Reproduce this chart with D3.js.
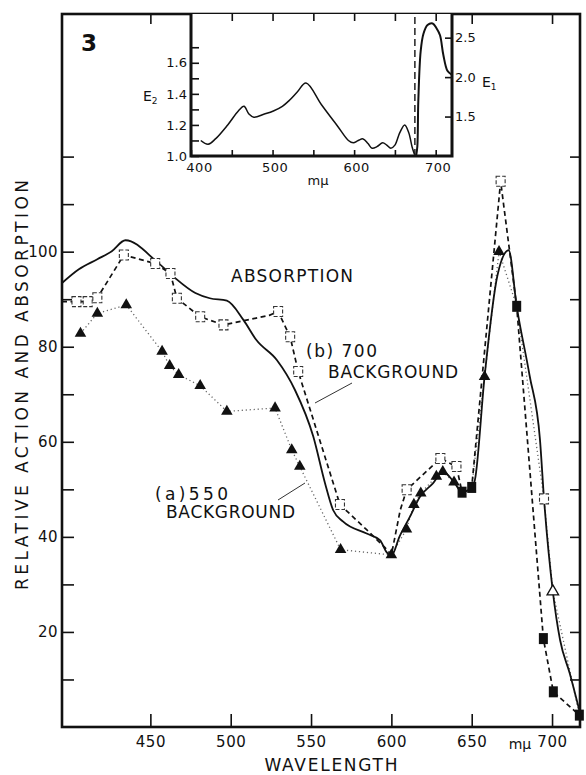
<!DOCTYPE html>
<html>
<head>
<meta charset="utf-8">
<script src="https://cdn.jsdelivr.net/npm/d3@7"></script>
<style>
body { margin: 0; background: #fff; }
svg { display: block; }
text { font-family: "DejaVu Sans", sans-serif; fill: #111; }
</style>
</head>
<body>
<script>
// main chart: relative action / absorption vs wavelength (m\u03bc)
const absorption = [
    [395, 93.4], [405.5, 96.3], [417, 98.4], [426, 100.1], [434.5, 102.4], [454, 97.9],
    [464.5, 94.7], [478, 91.3], [487, 90.2], [497.6, 89.7], [508, 85.6], [516, 81.4],
    [528.7, 77.2], [540, 70.9], [551.4, 61.1], [558.7, 51.3], [563.8, 45.6], [570, 43.2],
    [584.6, 40.7], [592.9, 39.3], [597, 36.8], [600, 36.0], [605, 40.0], [611.5, 44.2],
    [617.7, 48.4], [626, 51.3], [632, 53.7], [639, 51.5], [644, 49.4], [650, 50.4],
    [652, 52], [658, 73.7], [666, 95], [673, 100.3], [678, 88.5], [686, 74], [692.5, 60.4],
    [695, 48], [700.5, 28.5], [705, 18.3], [711, 11.3], [717, 3.5]
]
// (b) 700 background, dashed
const bg700 = [
    [395, 89.5], [404, 89.5], [411, 89.5], [417, 90.3], [433.5, 99.3], [453, 97.5],
    [462.5, 95.4], [466.5, 90.2], [481, 86.3], [495.5, 84.6], [524, 86.6], [529.5, 87.4],
    [537, 82.1], [542, 74.8], [568, 46.8], [584.6, 41.5], [595.6, 37.9], [600, 36.2],
    [605.5, 45.6], [609.5, 49.9], [630.5, 56.5], [640.5, 54.8], [644, 49.4], [650, 50.4],
    [668, 114.8], [678, 88.5], [694.6, 18.6], [700.8, 7.4], [717, 2.5]
]
// (a) 550 background, dotted
const bg550 = [
    [406.5, 82.8], [417, 87], [435, 88.8], [457.3, 79], [462, 76], [467.6, 74.1],
    [481, 71.8], [497.6, 66.4], [527.6, 67.1], [538, 58.3], [543, 54.8], [568.4, 37.3],
    [600, 36.2], [609.4, 41.6], [614, 46.8], [618.3, 49.2], [628, 52.7], [632, 53.7],
    [639, 51.5], [644, 49.4], [650, 50.4], [658, 73.7], [667, 100], [678, 88.5],
    [695, 48], [700.5, 28.5], [717, 2.5]
]
const openSquares = [
    [404, 89.5], [411, 89.5], [417, 90.3], [433.5, 99.3], [453, 97.5], [462.5, 95.4],
    [466.5, 90.2], [481, 86.3], [495.5, 84.6], [529.5, 87.4], [537, 82.1], [542, 74.8],
    [568, 46.8], [609.5, 49.9], [630.5, 56.5], [640.5, 54.8], [668, 114.8], [695, 48]
]
const filledTriangles = [
    [406.5, 82.8], [417, 87], [435, 88.8], [457.3, 79], [462, 76], [467.6, 74.1],
    [481, 71.8], [497.6, 66.4], [527.6, 67.1], [538, 58.3], [543, 54.8], [568.4, 37.3],
    [600, 36.2], [609.4, 41.6], [614, 46.8], [618.3, 49.2], [628, 52.7], [632, 53.7],
    [639, 51.5], [658, 73.7], [667, 100]
]
const filledSquares = [[644, 49.4], [650, 50.4], [678, 88.5], [694.6, 18.6], [700.8, 7.4], [717, 2.5]]
const openTriangles = [[700.5, 28.5]]

const xTicks = [450, 500, 550, 600, 650, 700]
const yTicks = [10, 20, 30, 40, 50, 60, 70, 80, 90, 100, 110, 120]
const yLabels = [20, 40, 60, 80, 100]

// inset: E2 (left scale) and E1 (right scale) vs m\u03bc
const insetE2 = [
    [412, 1.10], [421, 1.076], [430, 1.11], [445, 1.20], [458, 1.29], [465, 1.32],
    [471, 1.27], [477, 1.25], [490, 1.27], [501, 1.29], [512, 1.32], [521, 1.36],
    [530, 1.41], [541, 1.47], [560, 1.33], [580, 1.19], [593, 1.10], [599, 1.085],
    [605, 1.10], [611, 1.11], [617, 1.08], [622, 1.05], [628, 1.06], [635, 1.085],
    [640, 1.07], [645, 1.05], [650, 1.07], [656, 1.15], [662, 1.20], [667, 1.15],
    [671, 1.06], [674, 1.01]
]
const insetE1 = [
    [676, 1.0], [677.5, 1.12], [678.7, 1.70], [681.6, 2.33], [685, 2.55], [690, 2.66],
    [696.3, 2.68], [701, 2.62], [705.3, 2.53], [709.4, 2.28], [714.4, 2.08], [719.6, 2.03]
]
const insetCut = 674.5
const insetXTicks = [400, 450, 500, 550, 600, 650, 700]
const insetXLabels = [400, 500, 600, 700]
const insetE2Ticks = [1.0, 1.1, 1.2, 1.3, 1.4, 1.5, 1.6, 1.7]
const insetE2Labels = [1.0, 1.2, 1.4, 1.6]
const insetE1Ticks = [1.5, 2.0, 2.5]

var width = 586,
    height = 775
var svg = d3.select('body').append('svg')
    .attr('width', width)
    .attr('height', height)

var x = d3.scaleLinear().domain([395, 717.4]).range([62, 580])
var y = d3.scaleLinear().domain([0, 150]).range([727, 14])

function plain(g) {
    g.select('.domain').remove()
    g.selectAll('line').attr('stroke', '#111').attr('stroke-width', 1.6)
    g.selectAll('text').attr('fill', '#111').style('font-family', '"DejaVu Sans", sans-serif')
}

// axes, ticks point inward
svg.append('g').attr('transform', 'translate(0,727)')
    .call(d3.axisBottom(x).tickValues(xTicks).tickSize(-13).tickPadding(9))
    .call(plain)
    .selectAll('text').attr('font-size', 15).attr('letter-spacing', 0.6)
svg.append('g').attr('transform', 'translate(0,14)')
    .call(d3.axisTop(x).tickValues(xTicks).tickSize(-10).tickFormat(''))
    .call(plain)
svg.append('g').attr('transform', 'translate(62,0)')
    .call(d3.axisLeft(y).tickValues(yTicks).tickSize(-12).tickPadding(4)
        .tickFormat(d => yLabels.includes(d) ? d : ''))
    .call(plain)
    .selectAll('text').attr('font-size', 15).attr('letter-spacing', 0.4)
svg.append('g').attr('transform', 'translate(580,0)')
    .call(d3.axisRight(y).tickValues(yTicks).tickSize(-10).tickFormat(''))
    .call(plain)

svg.append('rect')
    .attr('x', 62).attr('y', 14).attr('width', 518).attr('height', 713)
    .attr('fill', 'none').attr('stroke', '#111').attr('stroke-width', 2.6)

// curves
var line = d3.line().x(d => x(d[0])).y(d => y(d[1]))
svg.append('path').datum(bg550)
    .attr('d', line)
    .attr('fill', 'none').attr('stroke', '#666').attr('stroke-width', 1.3)
    .attr('stroke-dasharray', '1.2,2.8')
svg.append('path').datum(bg700)
    .attr('d', line)
    .attr('fill', 'none').attr('stroke', '#111').attr('stroke-width', 1.7)
    .attr('stroke-dasharray', '5,3.5')
svg.append('path').datum(absorption)
    .attr('d', line.curve(d3.curveMonotoneX))
    .attr('fill', 'none').attr('stroke', '#111').attr('stroke-width', 1.8)
line.curve(d3.curveLinear)

// markers
svg.selectAll('.osq').data(openSquares).enter().append('rect')
    .attr('x', d => x(d[0]) - 4.5).attr('y', d => y(d[1]) - 5)
    .attr('width', 9).attr('height', 10)
    .attr('fill', '#fff').attr('stroke', '#333').attr('stroke-width', 1.1)
    .attr('stroke-dasharray', '4,2')
svg.selectAll('.ftri').data(filledTriangles).enter().append('path')
    .attr('transform', d => `translate(${x(d[0])},${y(d[1])})`)
    .attr('d', d3.symbol(d3.symbolTriangle).size(58))
    .attr('fill', '#111')
svg.selectAll('.fsq').data(filledSquares).enter().append('rect')
    .attr('x', d => x(d[0]) - 4.5).attr('y', d => y(d[1]) - 5.5)
    .attr('width', 9).attr('height', 11)
    .attr('fill', '#111')
svg.selectAll('.otri').data(openTriangles).enter().append('path')
    .attr('transform', d => `translate(${x(d[0])},${y(d[1])})`)
    .attr('d', d3.symbol(d3.symbolTriangle).size(58))
    .attr('fill', '#fff').attr('stroke', '#111').attr('stroke-width', 1.3)

// labels
svg.append('text').attr('x', 81).attr('y', 51)
    .attr('font-size', 23).attr('font-weight', 'bold').text('3')
svg.append('text').attr('x', 231).attr('y', 282)
    .attr('font-size', 17).attr('textLength', 122).text('ABSORPTION')
svg.append('text').attr('x', 306).attr('y', 357)
    .attr('font-size', 17).attr('textLength', 71).text('(b) 700')
svg.append('text').attr('x', 328).attr('y', 378)
    .attr('font-size', 17).attr('textLength', 130).text('BACKGROUND')
svg.append('text').attr('x', 155).attr('y', 500)
    .attr('font-size', 17).attr('textLength', 73).text('(a)550')
svg.append('text').attr('x', 166).attr('y', 518)
    .attr('font-size', 17).attr('textLength', 129).text('BACKGROUND')
svg.append('line').attr('x1', 315).attr('y1', 403).attr('x2', 352).attr('y2', 383)
    .attr('stroke', '#333').attr('stroke-width', 1)
svg.append('line').attr('x1', 278).attr('y1', 500).attr('x2', 305).attr('y2', 483)
    .attr('stroke', '#333').attr('stroke-width', 1)

svg.append('text').attr('transform', 'translate(28,385) rotate(-90)')
    .attr('text-anchor', 'middle').attr('font-size', 17)
    .attr('textLength', 410).text('RELATIVE ACTION AND ABSORPTION')
svg.append('text').attr('x', 331).attr('y', 771)
    .attr('text-anchor', 'middle').attr('font-size', 17)
    .attr('textLength', 133).text('WAVELENGTH')
svg.append('text').attr('x', 520).attr('y', 749)
    .attr('text-anchor', 'middle').attr('font-size', 14).text('m\u03bc')

// inset
var ix = d3.scaleLinear().domain([400, 720]).range([191, 452])
var iy2 = d3.scaleLinear().domain([1.0, 1.914]).range([156, 14])
var iy1 = d3.scaleLinear().domain([1.0, 2.8]).range([156, 14])

var inset = svg.append('g')
inset.append('rect')
    .attr('x', 191).attr('y', 14).attr('width', 261).attr('height', 142)
    .attr('fill', '#fff')

inset.append('g').attr('transform', 'translate(0,156)')
    .call(d3.axisBottom(ix).tickValues(insetXTicks).tickSize(-6).tickPadding(7)
        .tickFormat(d => insetXLabels.includes(d) ? d : ''))
    .call(plain)
    .selectAll('text').attr('font-size', 13).attr('letter-spacing', 0.5)
    .attr('dx', d => d === 400 ? 8 : 2)
inset.append('g').attr('transform', 'translate(0,14)')
    .call(d3.axisTop(ix).tickValues(insetXTicks.slice(1)).tickSize(-7).tickFormat(''))
    .call(plain)
inset.append('g').attr('transform', 'translate(191,0)')
    .call(d3.axisLeft(iy2).tickValues(insetE2Ticks).tickSize(-8).tickPadding(4)
        .tickFormat(d => insetE2Labels.some(v => Math.abs(v - d) < 1e-6) ? d3.format('.1f')(d) : ''))
    .call(plain)
    .selectAll('text').attr('font-size', 13)
inset.append('g').attr('transform', 'translate(452,0)')
    .call(d3.axisRight(iy1).tickValues(insetE1Ticks).tickSize(-7).tickPadding(3)
        .tickFormat(d3.format('.1f')))
    .call(plain)
    .selectAll('text').attr('font-size', 13)

inset.append('line')
    .attr('x1', ix(insetCut)).attr('x2', ix(insetCut))
    .attr('y1', iy2(1.0)).attr('y2', 14)
    .attr('stroke', '#111').attr('stroke-width', 1.4).attr('stroke-dasharray', '7,4')

inset.append('path').datum(insetE2)
    .attr('d', d3.line().x(d => ix(d[0])).y(d => iy2(d[1])).curve(d3.curveCatmullRom.alpha(0.5)))
    .attr('fill', 'none').attr('stroke', '#111').attr('stroke-width', 1.5)
inset.append('path').datum(insetE1)
    .attr('d', d3.line().x(d => ix(d[0])).y(d => iy1(d[1])).curve(d3.curveCatmullRom.alpha(0.5)))
    .attr('fill', 'none').attr('stroke', '#111').attr('stroke-width', 2)

inset.append('path')
    .attr('d', 'M191,14V156H452V14')
    .attr('fill', 'none').attr('stroke', '#111').attr('stroke-width', 3)

var e2 = inset.append('text').attr('x', 143).attr('y', 101).attr('font-size', 14)
e2.append('tspan').text('E')
e2.append('tspan').attr('font-size', 9).attr('dy', 3).text('2')
var e1 = inset.append('text').attr('x', 482).attr('y', 87).attr('font-size', 14)
e1.append('tspan').text('E')
e1.append('tspan').attr('font-size', 9).attr('dy', 3).text('1')
inset.append('text').attr('x', 318).attr('y', 185)
    .attr('text-anchor', 'middle').attr('font-size', 13).text('m\u03bc')
</script>
</body>
</html>
